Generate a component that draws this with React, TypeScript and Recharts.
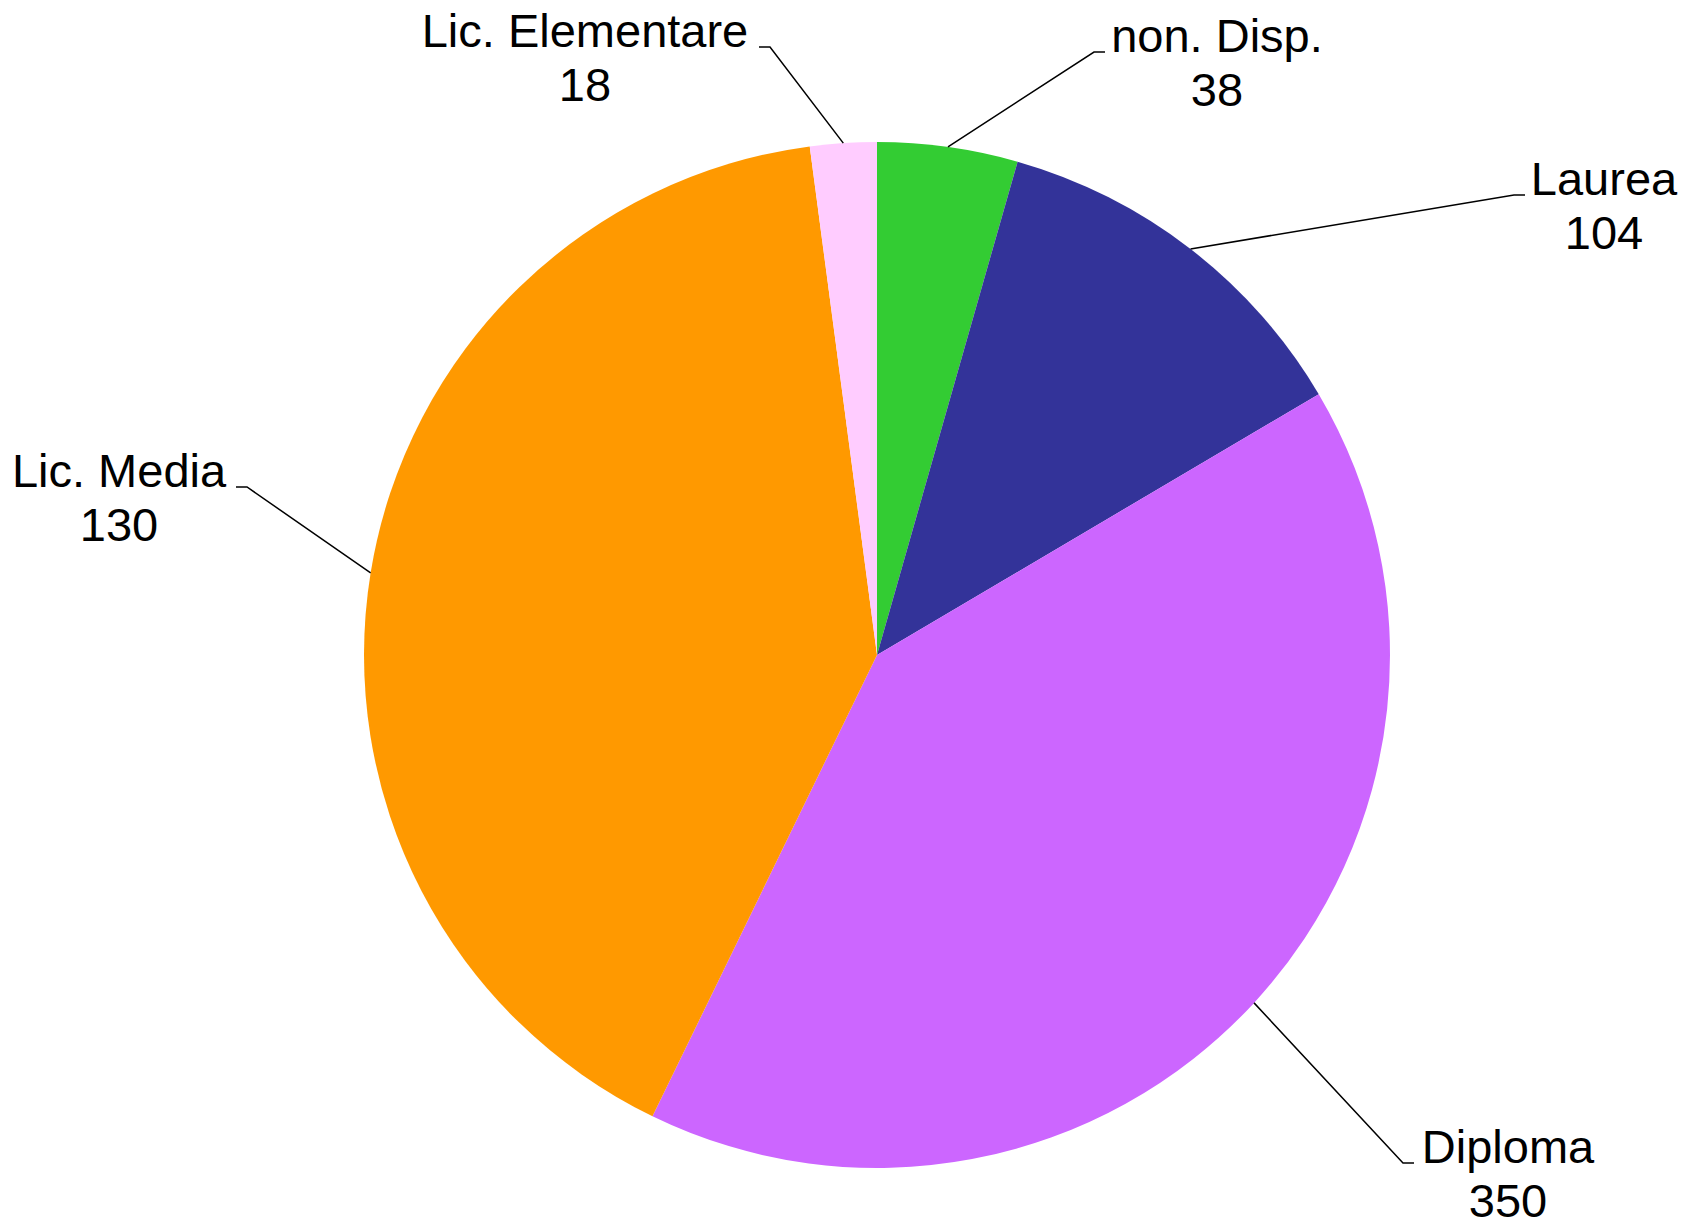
import React from 'react';
import { PieChart, Pie, Cell } from 'recharts';

// slices, clockwise from 12 o'clock
const categories = ['non. Disp.', 'Laurea', 'Diploma', 'Lic. Media', 'Lic. Elementare'];
const sliceValues = [38, 104, 350, 350, 18];
// numbers printed under each label
const labelValues = [38, 104, 350, 130, 18];
const colors = ['#33CC33', '#333399', '#CC66FF', '#FF9900', '#FFCCFF'];

const W = 1683;
const H = 1225;
const CX = 877;
const CY = 655;
const R = 513;
const RAD = Math.PI / 180;

// leader elbow and text centre, relative to the pie centre
const labelLayout = [
  { ex: 217, ey: -603, dir: 1, tx: 340 },
  { ex: 637, ey: -460, dir: 1, tx: 727 },
  { ex: 526, ey: 508, dir: 1, tx: 631 },
  { ex: -630, ey: -168, dir: -1, tx: -758 },
  { ex: -107, ey: -608, dir: -1, tx: -292 },
];

const data = categories.map((name, i) => ({ name, value: sliceValues[i], shown: labelValues[i] }));

const FONT = "'Liberation Sans', Arial, sans-serif";

const renderLabel = (props: any) => {
  const { midAngle, index } = props;
  const l = labelLayout[index];
  const sx = CX + R * Math.cos(-midAngle * RAD);
  const sy = CY + R * Math.sin(-midAngle * RAD);
  const ex = CX + l.ex;
  const ey = CY + l.ey;
  const hx = ex + l.dir * 11;
  const tx = CX + l.tx;
  return (
    <g key={`lbl-${index}`}>
      <polyline points={`${sx},${sy} ${ex},${ey} ${hx},${ey}`} fill="none" stroke="#000" strokeWidth={1.5} />
      <text x={tx} y={ey} textAnchor="middle" fontSize={47} fontFamily={FONT} fill="#000">
        {data[index].name}
      </text>
      <text x={tx} y={ey + 54} textAnchor="middle" fontSize={47} fontFamily={FONT} fill="#000">
        {data[index].shown}
      </text>
    </g>
  );
};

export default function App() {
  return (
    <div style={{ position: 'absolute', left: 0, top: 0, width: W, height: H, background: '#fff' }}>
      <PieChart width={W} height={H} margin={{ top: 0, right: 0, bottom: 0, left: 0 }}>
        <Pie
          data={data}
          dataKey="value"
          nameKey="name"
          cx={CX}
          cy={CY}
          outerRadius={R}
          startAngle={90}
          endAngle={-270}
          stroke="none"
          label={renderLabel}
          labelLine={false}
          isAnimationActive={false}
        >
          {data.map((d, i) => (
            <Cell key={d.name} fill={colors[i]} />
          ))}
        </Pie>
      </PieChart>
    </div>
  );
}
